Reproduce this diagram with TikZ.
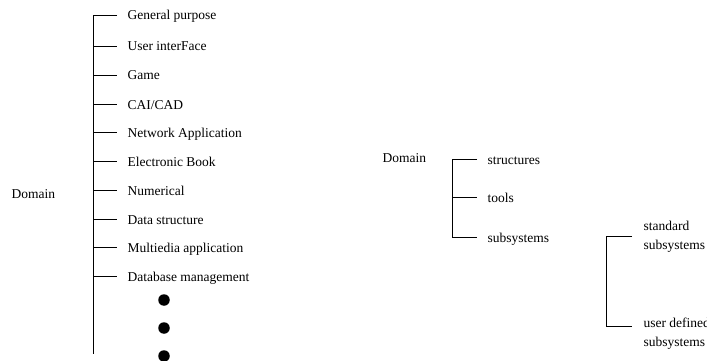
\documentclass[tikz,border=0pt]{standalone}
\usepackage{fontspec}
\setmainfont{Liberation Serif}
\usetikzlibrary{positioning}

\begin{document}
\begin{tikzpicture}[x=1pt, y=-1pt]
    % settings for the whole picture
    \tikzset{
      line width=1.1pt,
      every node/.style={font=\fontsize{13.5}{19.5}\selectfont, inner sep=0pt},
      title/.style={anchor=west, text height=10pt, text depth=0pt},
      leaf/.style={title, inner xsep=10pt},
      twoline/.style={anchor=west, align=left, inner xsep=11pt},
      dot/.style={circle, fill=black, minimum size=11.5pt},
    }
    \useasboundingbox (0,0) rectangle (707,361);

    % left tree
    \node[title] (dom) at (11,193) {Domain};
    \coordinate (ltop) at (93,15);
    \coordinate (lbot) at (93,354);

    \node[leaf] (gen) at (117,15) {General purpose};
    \node[leaf] (ui) at (117,46) {User interFace};
    \node[leaf] (game) at (117,75) {Game};
    \node[leaf] (cai) at (117,104) {CAI/CAD};
    \node[leaf] (net) at (117,132) {Network Application};
    \node[leaf] (ebook) at (117,161) {Electronic Book};
    \node[leaf] (num) at (117,190) {Numerical};
    \node[leaf] (data) at (117,219) {Data structure};
    \node[leaf] (media) at (117,247) {Multiedia application};
    \node[leaf] (dbm) at (117,276) {Database management};

    \node[dot] (d1) at (164,300) {};
    \node[dot] (d2) at (164,328) {};
    \node[dot] (d3) at (164,356) {};

    \draw (gen.west) -- (ltop) -- (lbot);
    \draw (ltop |- ui.west) -- (ui.west)
          (ltop |- game.west) -- (game.west)
          (ltop |- cai.west) -- (cai.west)
          (ltop |- net.west) -- (net.west)
          (ltop |- ebook.west) -- (ebook.west)
          (ltop |- num.west) -- (num.west)
          (ltop |- data.west) -- (data.west)
          (ltop |- media.west) -- (media.west)
          (ltop |- dbm.west) -- (dbm.west);

    % right tree
    \node[title] (dom2) at (382,157) {Domain};
    \coordinate (rtop) at (452,159);
    \node[leaf] (struct) at (477,159) {structures};
    \node[leaf] (tools) at (477,197) {tools};
    \node[leaf] (subs) at (477,237) {subsystems};

    \draw (struct.west) -- (rtop) -- (rtop |- subs.west) -- (subs.west);
    \draw (rtop |- tools.west) -- (tools.west);

    % subsystems
    \coordinate (stop) at (606,236);
    \coordinate (sbot) at (606,326);
    \node[twoline] (std) at (632,237) {standard\\subsystems};
    \node[twoline] (user) at (632,333.5) {user defined\\subsystems};

    \draw (stop -| std.west) -- (stop) -- (sbot) -- (sbot -| user.west);

  \end{tikzpicture}
\end{document}
